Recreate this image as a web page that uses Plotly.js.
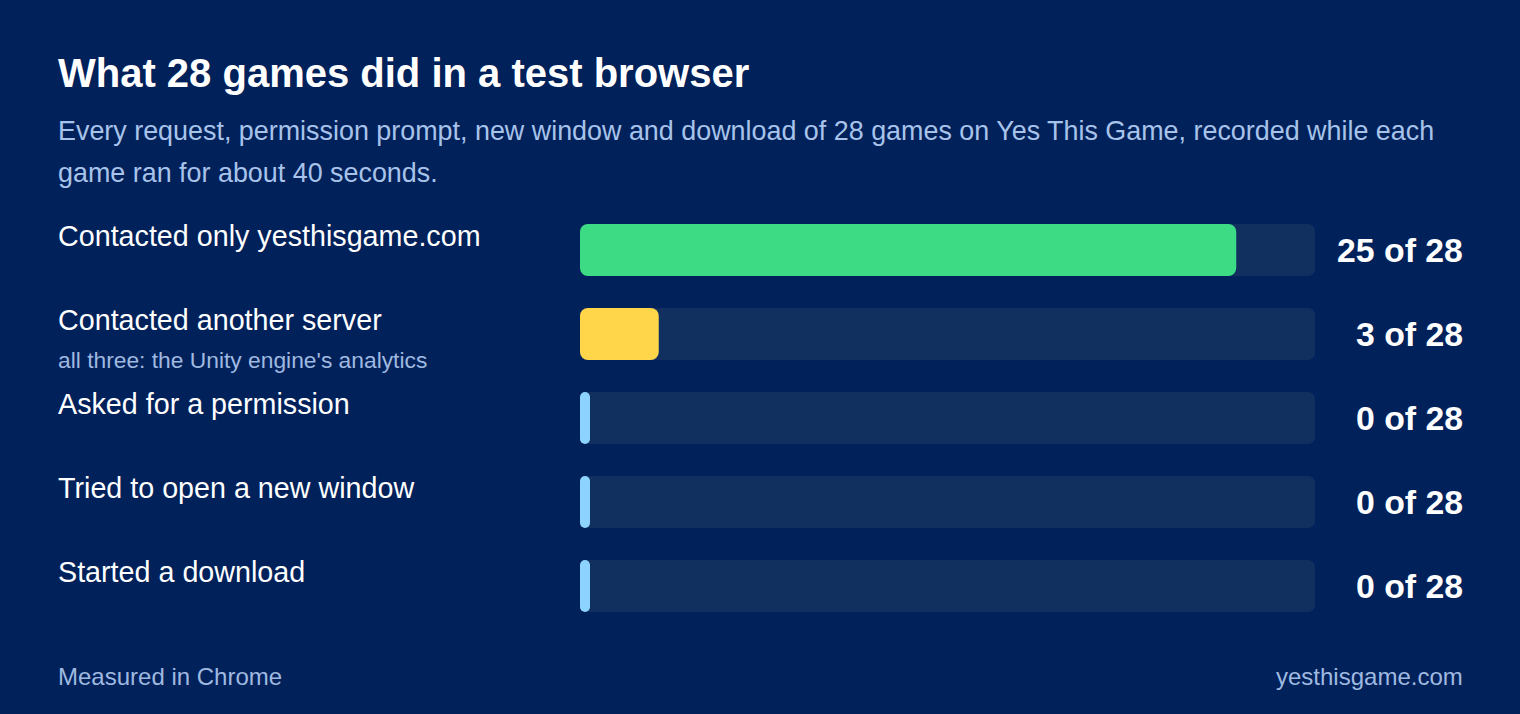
<!DOCTYPE html>
<html>
<head>
<meta charset="utf-8">
<script src="https://cdn.plot.ly/plotly-3.0.1.min.js"></script>
<style>
  html, body { margin: 0; padding: 0; background: #01215a; }
  #chart { width: 1520px; height: 714px; }
</style>
</head>
<body>
<div id="chart"></div>
<script>
// ---- data ----
const categories = [
  "Contacted only yesthisgame.com",
  "Contacted another server",
  "Asked for a permission",
  "Tried to open a new window",
  "Started a download"
];
const notes = ["", "all three: the Unity engine's analytics", "", "", ""];
const counts = [25, 3, 0, 0, 0];
const totalGames = 28;
const titleText = "What 28 games did in a test browser";
const subtitleLines = [
  "Every request, permission prompt, new window and download of 28 games on Yes This Game, recorded while each",
  "game ran for about 40 seconds."
];
const footLeft = "Measured in Chrome";
const footRight = "yesthisgame.com";

// ---- style ----
const W = 1520, H = 714;
const BG = "#01215a";
const TRACK = "#11305f";
const barColors = ["#3ddc84", "#ffd54a", "#8dd3ff", "#8dd3ff", "#8dd3ff"];
const FONT = '"Liberation Sans", Arial, Helvetica, sans-serif';
const px = (x) => x / W;
const py = (y) => 1 - y / H;

const plotLeft = 580, plotRight = 1315;
const rowTop = 208, rowStep = 84;
const nRows = categories.length;
const plotW = plotRight - plotLeft;
const minVisible = 10 / plotW * totalGames; // zero values shown as a thin marker
const barW = 52 / rowStep;

const idx = categories.map((_, i) => i);
const shown = counts.map(v => Math.max(v, minVisible));
const totals = categories.map(() => totalGames);

// An explicit base makes Plotly round both ends of each bar; each trace
// sits on its own overlaid axis so bars are not treated as one stack.
const track = {
  type: "bar", orientation: "h", yaxis: "y",
  y: idx, x: totals, base: idx.map(() => 0),
  width: barW,
  marker: { color: TRACK, cornerradius: 7, line: { width: 0 } },
  hoverinfo: "skip", showlegend: false
};
const values = {
  type: "bar", orientation: "h", yaxis: "y2",
  y: idx, x: shown, base: idx.map(() => 0),
  width: barW,
  customdata: counts,
  hovertemplate: "%{customdata} of " + totalGames + "<extra></extra>",
  marker: { color: barColors, cornerradius: 8, line: { width: 0 } },
  showlegend: false
};

const ann = [];
subtitleLines.forEach((t, k) => ann.push({
  xref: "paper", yref: "paper", x: px(56), y: py(131 + 42 * k),
  xanchor: "left", yanchor: "middle", showarrow: false,
  text: t, font: { family: FONT, size: 26.9, color: "#a8c3ea" }
}));
categories.forEach((c, i) => {
  ann.push({
    xref: "paper", yref: "y", x: px(56), y: i, yshift: 14,
    xanchor: "left", yanchor: "middle", showarrow: false,
    text: c, font: { family: FONT, size: 28.7, color: "#ffffff" }
  });
  if (notes[i]) ann.push({
    xref: "paper", yref: "y", x: px(56), y: i, yshift: -26,
    xanchor: "left", yanchor: "middle", showarrow: false,
    text: notes[i], font: { family: FONT, size: 22.8, color: "#9fb9e0" }
  });
  ann.push({
    xref: "paper", yref: "y", x: px(1465), y: i,
    xanchor: "right", yanchor: "middle", showarrow: false,
    text: "<b>" + counts[i] + " of " + totalGames + "</b>",
    font: { family: FONT, size: 33.8, color: "#ffffff" }
  });
});
ann.push({
  xref: "paper", yref: "paper", x: px(56), y: py(676),
  xanchor: "left", yanchor: "middle", showarrow: false,
  text: footLeft, font: { family: FONT, size: 24, color: "#9fb9e0" }
});
ann.push({
  xref: "paper", yref: "paper", x: px(1465), y: py(676),
  xanchor: "right", yanchor: "middle", showarrow: false,
  text: footRight, font: { family: FONT, size: 24, color: "#9fb9e0" }
});

const yBase = {
  domain: [py(rowTop + rowStep * nRows), py(rowTop)],
  range: [nRows - 0.5, -0.5],
  showgrid: false, zeroline: false, showticklabels: false, fixedrange: true
};

const layout = {
  width: W, height: H,
  margin: { l: 0, r: 0, t: 0, b: 0, pad: 0 },
  paper_bgcolor: BG, plot_bgcolor: BG,
  barmode: "overlay",
  title: {
    text: "<b>" + titleText + "</b>",
    xref: "paper", yref: "paper", x: px(58), xanchor: "left",
    y: py(73), yanchor: "middle",
    font: { family: FONT, size: 40, color: "#ffffff" }
  },
  xaxis: {
    domain: [px(plotLeft), px(plotRight)], range: [0, totalGames],
    showgrid: false, zeroline: false, showticklabels: false, fixedrange: true
  },
  yaxis: Object.assign({}, yBase),
  yaxis2: Object.assign({}, yBase, { overlaying: "y" }),
  annotations: ann,
  showlegend: false
};

Plotly.newPlot("chart", [track, values], layout, { displayModeBar: false });
</script>
</body>
</html>
